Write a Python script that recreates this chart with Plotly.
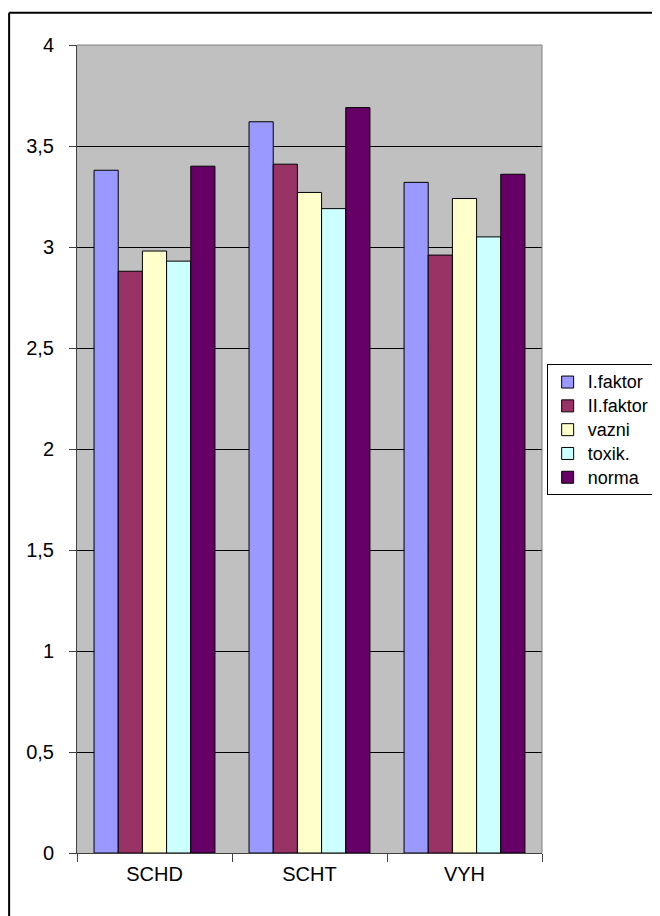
import plotly.graph_objects as go

categories = ["SCHD", "SCHT", "VYH"]
series_names = ["I.faktor", "II.faktor", "vazni", "toxik.", "norma"]
i_faktor = [3.38, 3.62, 3.32]
ii_faktor = [2.88, 3.41, 2.96]
vazni = [2.98, 3.27, 3.24]
toxik = [2.93, 3.19, 3.05]
norma = [3.40, 3.69, 3.36]
colors = ["#9999FF", "#993366", "#FFFFCC", "#CCFFFF", "#660066"]

fig = go.Figure()
for name, vals, col in zip(series_names, [i_faktor, ii_faktor, vazni, toxik, norma], colors):
    # legend rows are spaced from the legend font size (16); the label itself is drawn bigger
    fig.add_trace(go.Bar(x=categories, y=vals,
                         name=f'<span style="font-size:18px">{name}</span>',
                         marker=dict(color=col, line=dict(color="black", width=1))))

font = dict(family="Liberation Sans, Arial, sans-serif", size=20, color="black")

# the page adds an 8px body margin; the legend is allowed to run off the right edge
fig.update_layout(
    width=660, height=916,
    margin=dict(l=69, r=126, t=37, b=71, autoexpand=False),
    paper_bgcolor="white",
    plot_bgcolor="#C0C0C0",
    font=font,
    barmode="group",
    bargap=0.22,
    bargroupgap=0,
    separators=",.",
    showlegend=True,
    legend=dict(
        x=1.01, y=0.605, xanchor="left", yanchor="top",
        bgcolor="white", bordercolor="black", borderwidth=1,
        font=dict(family="Liberation Sans, Arial, sans-serif", size=16, color="black"),
        tracegroupgap=0,
    ),
)

fig.update_yaxes(
    range=[0, 4], dtick=0.5, tickformat="~r",
    showgrid=True, gridcolor="black", gridwidth=1,
    showline=True, linecolor="#404040", linewidth=1,
    ticks="outside", ticklen=7, tickcolor="#404040",
    ticklabelstandoff=11, zeroline=False,
)
fig.update_xaxes(
    showgrid=False,
    showline=True, linecolor="#404040", linewidth=1,
    ticks="outside", ticklen=8, tickcolor="#404040", tickson="boundaries",
    ticklabelstandoff=3,
)

# plot area border on top and right
fig.add_shape(type="line", xref="paper", yref="paper", x0=0, x1=1, y0=1, y1=1,
              line=dict(color="#808080", width=1))
fig.add_shape(type="line", xref="paper", yref="paper", x0=1, x1=1, y0=0, y1=1,
              line=dict(color="#808080", width=1))
# outer chart frame: only its left and top sides are inside the picture
fig.add_shape(type="line", xref="paper", yref="paper", x0=-0.146, x1=-0.146, y0=-0.2, y1=1.04,
              line=dict(color="black", width=2))
fig.add_shape(type="line", xref="paper", yref="paper", x0=-0.146, x1=1.5, y0=1.04, y1=1.04,
              line=dict(color="black", width=2))

fig.write_html("out.html")
